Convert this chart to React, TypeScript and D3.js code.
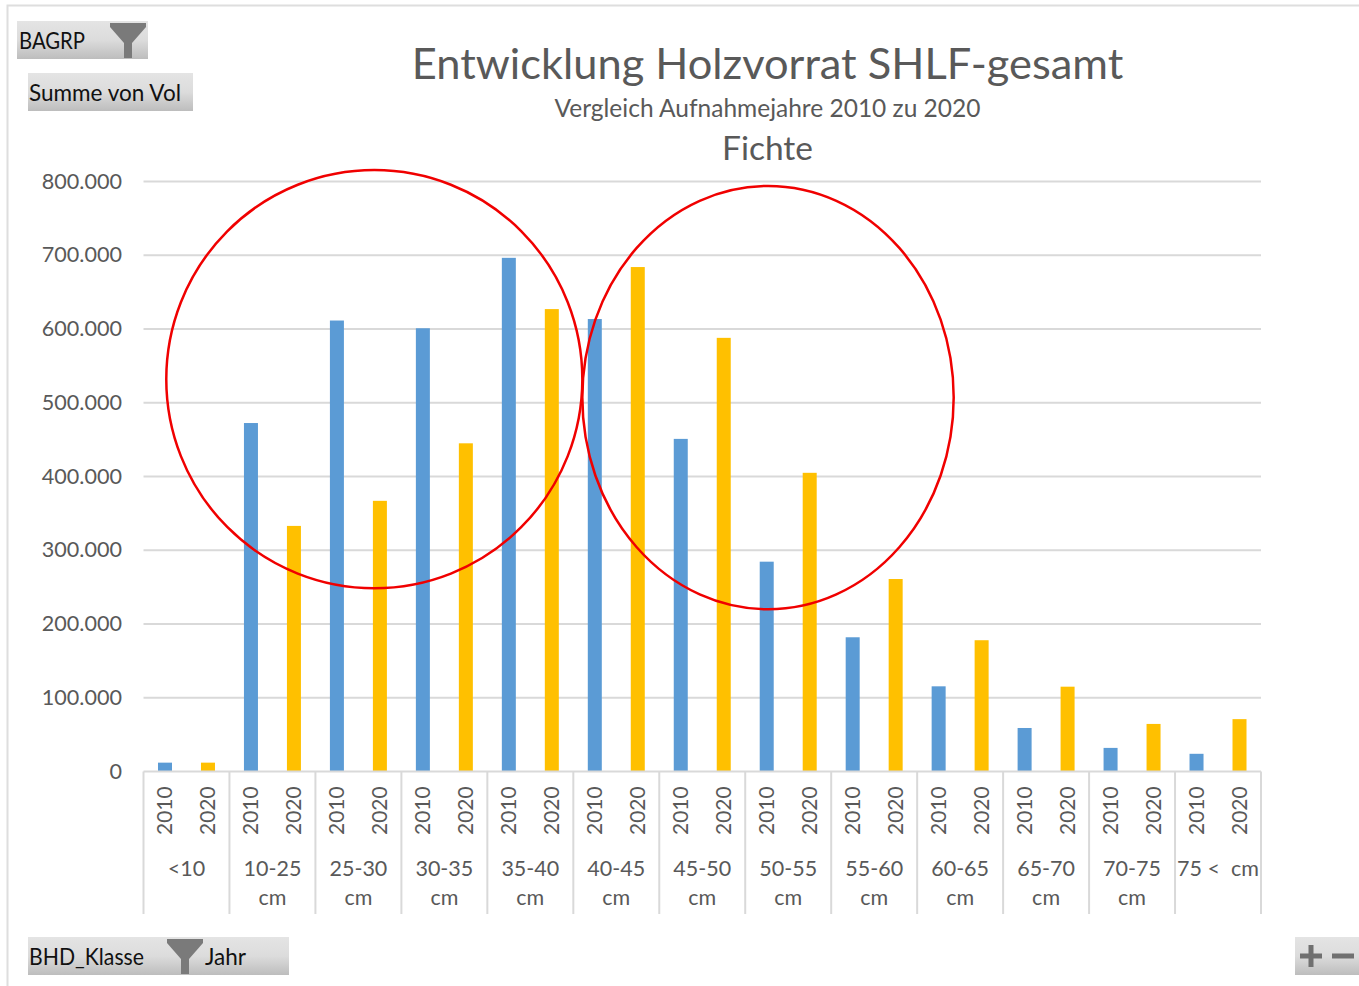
import React from "react";
import * as d3 from "d3";

const categories = ["<10", "10-25 cm", "25-30 cm", "30-35 cm", "35-40 cm", "40-45 cm", "45-50 cm", "50-55 cm", "55-60 cm", "60-65 cm", "65-70 cm", "70-75 cm", "75 <  cm"];
const years = ["2010", "2020"];
const values2010 = [12000, 472500, 611500, 601000, 696500, 613500, 451000, 284500, 182000, 115500, 59000, 32000, 24000];
const values2020 = [12000, 333000, 367000, 445000, 627000, 684000, 588000, 405000, 261000, 178000, 115000, 64500, 71000];
const yTicks = [0, 100000, 200000, 300000, 400000, 500000, 600000, 700000, 800000];
// annotation rings, in group units (x) and volume units (y)
const ringCentreGroup = [2.685, 7.265];
const ringCentreValue = [532000, 507000];
const ringRadiusGroup = [2.42, 2.16];
const ringRadiusValue = [283500, 287000];

const FONT = "Lato, Carlito, sans-serif";
const TEXT = "#595959";
const GRID = "#d9d9d9";
const BLUE = "#5b9bd5";
const GOLD = "#ffc000";

const L = 143.5, R = 1261, T = 181.5, B = 771.5, AXB = 914;

const fmt = (v: number) => d3.format(",")(v).replace(/,/g, ".");

function Funnel({ x, y }: { x: number; y: number }) {
  const p = d3.path();
  p.moveTo(x, y);
  p.lineTo(x + 36, y);
  p.lineTo(x + 36, y + 4);
  p.lineTo(x + 22, y + 20);
  p.lineTo(x + 22, y + 35);
  p.lineTo(x + 14, y + 35);
  p.lineTo(x + 14, y + 20);
  p.lineTo(x, y + 4);
  p.closePath();
  return <path d={p.toString()} fill="#7a7a7a" />;
}

function Label({ x, y, len, children }: { x: number; y: number; len: number; children: string }) {
  return (
    <text x={x} y={y} fontSize={24} fill="#111" fontFamily={FONT} textLength={len} lengthAdjust="spacingAndGlyphs">
      {children}
    </text>
  );
}

function Btn({ x, y, w }: { x: number; y: number; w: number }) {
  return <rect x={x} y={y} width={w} height={38} fill="url(#btn)" />;
}

export default function App() {
  const x0 = d3.scaleBand<string>().domain(categories).range([L, R]);
  const x1 = d3.scaleBand<string>().domain(years).range([0, x0.bandwidth()]);
  const y = d3.scaleLinear().domain([0, 800000]).range([B, T]);
  const gx = d3.scaleLinear().domain([0, categories.length]).range([L, R]);
  const barW = 14;
  const series = [values2010, values2020];
  const colors = [BLUE, GOLD];

  return (
    <svg width={1359} height={986} style={{ position: "absolute", left: 0, top: 0, display: "block" }}>
      <defs>
        <linearGradient id="btn" x1="0" y1="0" x2="0" y2="1">
          <stop offset="0" stopColor="#e4e4e4" />
          <stop offset="0.5" stopColor="#dcdcdc" />
          <stop offset="1" stopColor="#bdbdbd" />
        </linearGradient>
      </defs>
      <rect width={1359} height={986} fill="#fff" />
      <path d="M7.5,986V5.5H1359" fill="none" stroke="#dedede" strokeWidth={2} />

      <text x={767.5} y={79} textAnchor="middle" fontSize={43.4} fill={TEXT} fontFamily={FONT}>Entwicklung Holzvorrat SHLF-gesamt</text>
      <text x={767.5} y={117} textAnchor="middle" fontSize={24.5} fill={TEXT} fontFamily={FONT}>Vergleich Aufnahmejahre 2010 zu 2020</text>
      <text x={767.5} y={160} textAnchor="middle" fontSize={33.5} fill={TEXT} fontFamily={FONT}>Fichte</text>

      <Btn x={17} y={21} w={131} />
      <Label x={19} y={49} len={66}>BAGRP</Label>
      <Funnel x={110} y={23} />
      <Btn x={28} y={73} w={165} />
      <Label x={29} y={101} len={152}>Summe von Vol</Label>
      <Btn x={28} y={937} w={261} />
      <Label x={29} y={965} len={115}>BHD_Klasse</Label>
      <Funnel x={167} y={939} />
      <Label x={205} y={965} len={41}>Jahr</Label>
      <Btn x={1295} y={937} w={64} />
      <path d="M1300,956H1322M1311,945V967M1332,956H1354" stroke="#707070" strokeWidth={5} fill="none" />

      {yTicks.map((t) => (
        <g key={t}>
          {t > 0 && <line x1={L} x2={R} y1={y(t)} y2={y(t)} stroke={GRID} strokeWidth={2} />}
          <text x={122} y={y(t) + 7} textAnchor="end" fontSize={21.6} fill={TEXT} fontFamily={FONT}>{fmt(t)}</text>
        </g>
      ))}

      {categories.map((c, i) =>
        series.map((s, k) => {
          const cx = x0(c)! + x1(years[k])! + x1.bandwidth() / 2;
          return <rect key={c + k} x={cx - barW / 2} y={y(s[i])} width={barW} height={B - y(s[i])} fill={colors[k]} />;
        })
      )}

      <line x1={L} x2={R} y1={B} y2={B} stroke={GRID} strokeWidth={2} />
      {d3.range(categories.length + 1).map((i) => (
        <line key={i} x1={gx(i)} x2={gx(i)} y1={B} y2={AXB} stroke={GRID} strokeWidth={2} />
      ))}

      {categories.map((c) => {
        const [a, b] = c.startsWith("75") ? [c, ""] : c.split(" ");
        const mid = x0(c)! + x0.bandwidth() / 2;
        return (
          <g key={c} fontFamily={FONT} fill={TEXT}>
            {years.map((yr) => {
              const cx = x0(c)! + x1(yr)! + x1.bandwidth() / 2;
              return (
                <text key={yr} transform={`translate(${cx + 7.5},835) rotate(-90)`} fontSize={21}>{yr}</text>
              );
            })}
            <text x={mid} y={876} textAnchor="middle" fontSize={21.5} style={{ whiteSpace: "pre" }}>{a}</text>
            {b && <text x={mid} y={905} textAnchor="middle" fontSize={21.5}>{b}</text>}
          </g>
        );
      })}

      {ringCentreGroup.map((g, i) => {
        const cx = gx(g);
        const cy = y(ringCentreValue[i]);
        const rx = gx(g + ringRadiusGroup[i]) - cx;
        const ry = cy - y(ringCentreValue[i] + ringRadiusValue[i]);
        return <ellipse key={i} cx={cx} cy={cy} rx={rx} ry={ry} fill="none" stroke="#f00000" strokeWidth={2.5} />;
      })}
    </svg>
  );
}
